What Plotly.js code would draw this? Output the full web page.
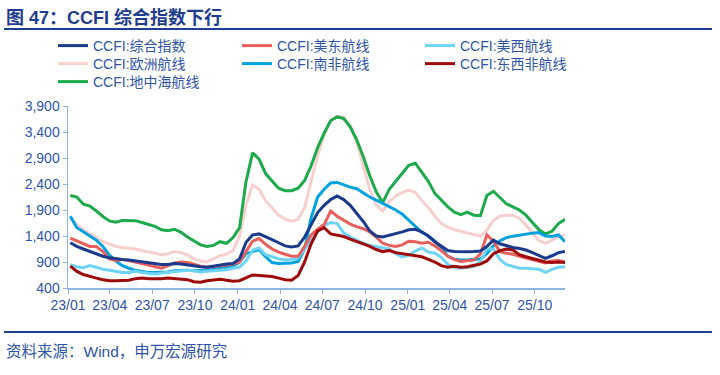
<!DOCTYPE html>
<html>
<head>
<meta charset="utf-8">
<script src="https://cdn.plot.ly/plotly-3.0.1.min.js"></script>
<style>
html,body{margin:0;padding:0;background:#fff;}
#chart{width:720px;height:375px;}
</style>
</head>
<body>
<div id="chart"></div>
<script>
const dates = [
 "2023-01-06","2023-01-20","2023-02-03","2023-02-17","2023-03-03","2023-03-17","2023-03-31","2023-04-14","2023-04-28","2023-05-12",
 "2023-05-26","2023-06-09","2023-06-23","2023-07-07","2023-07-21","2023-08-04","2023-08-18","2023-09-01","2023-09-15","2023-09-29",
 "2023-10-13","2023-10-27","2023-11-10","2023-11-24","2023-12-08","2023-12-22",
 "2024-01-05","2024-01-19","2024-02-02","2024-02-16","2024-03-01","2024-03-15","2024-03-29","2024-04-12","2024-04-26","2024-05-10",
 "2024-05-24","2024-06-07","2024-06-21","2024-07-05","2024-07-19","2024-08-02","2024-08-16","2024-08-30","2024-09-13","2024-09-27",
 "2024-10-11","2024-10-25","2024-11-08","2024-11-22","2024-12-06","2024-12-20",
 "2025-01-03","2025-01-17","2025-01-31","2025-02-14","2025-02-28","2025-03-14","2025-03-28","2025-04-11","2025-04-25","2025-05-09",
 "2025-05-23","2025-06-06","2025-06-20","2025-07-04","2025-07-18","2025-08-01","2025-08-15","2025-08-29","2025-09-12","2025-09-26",
 "2025-10-10","2025-10-24","2025-11-07","2025-11-21","2025-12-05"
];

const composite = [1270,1200,1150,1100,1060,1010,980,960,950,940,
 920,900,880,860,850,850,870,860,840,820,
 810,800,820,850,860,870,
 960,1280,1420,1440,1390,1330,1270,1210,1190,1210,
 1380,1620,1850,1990,2100,2170,2100,1990,1840,1680,
 1500,1400,1380,1410,1450,1480,
 1520,1530,1480,1400,1290,1200,1120,1100,1095,1095,
 1100,1110,1200,1320,1250,1210,1180,1160,1130,1080,
 1020,970,1020,1080,1100];

const usEast = [1360,1310,1250,1200,1200,1100,960,930,950,930,
 900,870,840,800,780,830,880,900,890,860,
 820,800,810,830,840,860,
 900,1100,1300,1350,1240,1150,1090,1050,1010,1010,
 1200,1420,1530,1620,1880,1780,1700,1630,1580,1540,
 1480,1380,1260,1220,1200,1230,
 1300,1290,1260,1280,1210,1120,1010,950,910,920,
 940,1050,1420,1300,1100,1070,1050,1010,980,950,
 910,880,920,930,900];

const usWest = [850,810,790,830,800,760,740,720,700,700,
 720,700,680,670,690,700,720,730,740,730,
 710,720,730,740,750,780,
 800,920,1130,1170,1040,1000,960,940,950,980,
 1150,1330,1480,1600,1660,1640,1460,1380,1320,1260,
 1220,1200,1180,1150,1060,1000,
 1030,1110,1170,1090,1070,990,850,800,780,790,
 810,900,1150,1150,950,850,810,780,780,770,
 760,700,760,800,810];

const europe = [1760,1620,1520,1450,1370,1290,1240,1200,1180,1170,
 1150,1120,1090,1060,1040,1060,1100,1080,1040,960,
 920,900,960,1020,1050,1120,
 1400,2000,2380,2300,2080,1930,1800,1730,1680,1720,
 1950,2450,2950,3350,3620,3700,3680,3520,3200,2750,
 2300,1990,1880,2060,2170,2240,
 2280,2240,2080,1950,1780,1640,1570,1520,1490,1460,
 1440,1400,1510,1700,1780,1800,1800,1740,1610,1450,
 1310,1260,1320,1380,1420];

const southAfrica = [1780,1560,1480,1400,1320,1200,1030,920,830,780,
 740,720,700,700,700,710,730,740,740,730,
 730,740,760,780,790,820,
 900,1060,1100,1140,1000,890,870,870,880,910,
 1150,1750,2150,2300,2420,2430,2380,2340,2310,2230,
 2150,2090,2030,1960,1900,1820,
 1700,1590,1470,1400,1300,1180,1010,955,940,940,
 945,960,1060,1210,1310,1370,1395,1415,1440,1455,
 1465,1400,1390,1420,1290];

const eastWestAfrica = [820,720,660,620,590,560,540,540,550,550,
 580,590,580,575,580,590,580,570,560,520,
 510,540,560,570,550,530,
 540,600,650,640,630,620,590,560,550,640,
 900,1250,1500,1560,1440,1420,1390,1340,1300,1250,
 1200,1140,1100,1120,1080,1060,
 1040,1020,1000,950,900,830,800,820,800,810,
 830,860,920,1060,1120,1150,1130,1040,1000,970,
 930,900,890,900,890];

const mediterranean = [2180,2150,2010,1975,1880,1775,1690,1665,1700,1700,
 1695,1660,1620,1585,1520,1500,1530,1470,1380,1300,
 1230,1200,1220,1290,1260,1370,
 1560,2450,3000,2880,2600,2460,2320,2270,2270,2320,
 2470,2750,3100,3380,3620,3690,3660,3500,3250,2930,
 2560,2250,2040,2300,2460,2600,
 2760,2800,2620,2450,2220,2080,1960,1860,1810,1860,
 1800,1790,2180,2260,2140,2020,1960,1900,1800,1650,
 1520,1440,1490,1640,1720];

const seriesNames = ["CCFI:综合指数","CCFI:美东航线","CCFI:美西航线","CCFI:欧洲航线","CCFI:南非航线","CCFI:东西非航线","CCFI:地中海航线"];
const seriesValues = [composite, usEast, usWest, europe, southAfrica, eastWestAfrica, mediterranean];
const seriesColors = ["#1B3A8C","#E8605C","#6FD3F5","#F8CFCF","#00A2E0","#9E0A0A","#1DAA4A"];

const yTickVals = [400,900,1400,1900,2400,2900,3400,3900];

const titleText = "图 47：CCFI 综合指数下行";
const sourceText = "资料来源：Wind，申万宏源研究";

const FONT = "Liberation Sans, Arial, Noto Sans CJK SC, sans-serif";
const BLUE_TXT = "#2F55A8";
const AXIS = "#8DB6E0";

const L = 68, R = 155, T = 106, B = 87;
const PW = 720 - L - R, PH = 375 - T - B;
const px = p => (p - L) / PW;
const py = p => (375 - B - p) / PH;

// legend slots (pixel position of each legend entry: 3 columns x 3 rows)
const legendCols = [53, 237, 420];
const legendRows = [46, 64, 82];
const legendSlot = [[0,0],[1,0],[2,0],[0,1],[1,1],[2,1],[0,2]];

const traces = seriesNames.map((n, i) => ({
  type: "scatter", mode: "lines", name: n,
  x: dates, y: seriesValues[i],
  line: {color: seriesColors[i], width: 3},
  legend: i === 0 ? "legend" : "legend" + (i + 1),
  hoverinfo: "skip"
}));

// draw order: composite drawn last so it sits on top
const drawOrder = [3,6,4,2,1,5,0];
const orderedTraces = drawOrder.map(i => traces[i]);

const layout = {
  width: 720, height: 375,
  margin: {l: L, r: R, t: T, b: B, pad: 0},
  paper_bgcolor: "#fff", plot_bgcolor: "#fff",
  font: {family: FONT, color: BLUE_TXT, size: 13},
  showlegend: true,
  xaxis: {
    type: "date", range: ["2023-01-01", "2025-12-05"],
    tick0: "2023-01-01", dtick: "M3", tickformat: "%y/%m",
    showgrid: false, zeroline: false,
    showline: true, linecolor: AXIS, linewidth: 1.5,
    ticks: "outside", ticklen: 4, tickcolor: AXIS,
    tickfont: {family: FONT, size: 14, color: BLUE_TXT}
  },
  yaxis: {
    range: [400, 3900], tickvals: yTickVals, tickformat: ",d",
    showgrid: false, zeroline: false,
    showline: true, linecolor: AXIS, linewidth: 1.5,
    ticks: "outside", ticklen: 4, tickcolor: AXIS,
    tickfont: {family: FONT, size: 14, color: BLUE_TXT}
  },
  annotations: [
    {text: "<b>" + titleText + "</b>", xref: "paper", yref: "paper",
     x: px(4), y: py(18), xanchor: "left", yanchor: "middle", showarrow: false,
     font: {family: FONT, size: 18, color: "#1F3D8E"}},
    {text: sourceText, xref: "paper", yref: "paper",
     x: px(4), y: py(351), xanchor: "left", yanchor: "middle", showarrow: false,
     font: {family: FONT, size: 15.5, color: BLUE_TXT}}
  ],
  shapes: [
    {type: "line", xref: "paper", yref: "paper", x0: px(4), x1: px(712), y0: py(29), y1: py(29),
     line: {color: "#1E3E93", width: 2}},
    {type: "line", xref: "paper", yref: "paper", x0: px(4), x1: px(712), y0: py(332), y1: py(332),
     line: {color: "#1E3E93", width: 2}}
  ]
};

legendSlot.forEach((s, i) => {
  const key = i === 0 ? "legend" : "legend" + (i + 1);
  layout[key] = {
    orientation: "v", x: px(legendCols[s[0]]), y: py(legendRows[s[1]]),
    xanchor: "left", yanchor: "middle", itemwidth: 30,
    font: {family: FONT, size: 14, color: BLUE_TXT},
    bgcolor: "rgba(0,0,0,0)", borderwidth: 0
  };
});

Plotly.newPlot("chart", orderedTraces, layout, {displayModeBar: false, staticPlot: true});
</script>
</body>
</html>
